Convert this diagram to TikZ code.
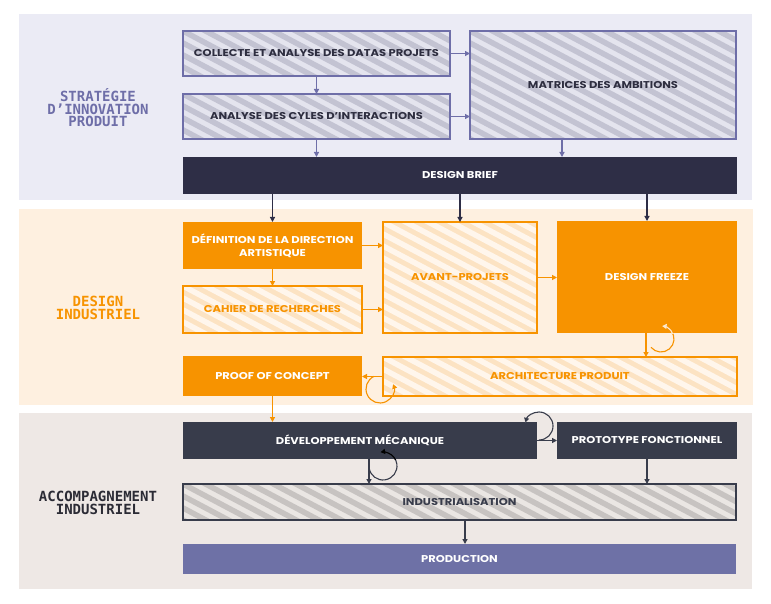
\documentclass[tikz,border=0pt]{standalone}
\usepackage{fontspec}
\setmainfont{Poppins}[FakeStretch=1.16]
\newfontfamily\labelfont{DejaVu Sans Mono}
\usetikzlibrary{arrows.meta,calc}
\definecolor{lavbg}{HTML}{EBEBF5}
\definecolor{purp}{HTML}{6E6EA8}
\definecolor{pstripe}{HTML}{C3C3D2}
\definecolor{pstripebg}{HTML}{E4E4EE}
\definecolor{navy}{HTML}{2E2E46}
\definecolor{creambg}{HTML}{FEF0E0}
\definecolor{orng}{HTML}{F79300}
\definecolor{ostripe}{HTML}{FFF6EC}
\definecolor{ostripebg}{HTML}{FCE3C3}
\definecolor{greybg}{HTML}{EEE8E5}
\definecolor{darkbox}{HTML}{383C4B}
\definecolor{gstripe}{HTML}{C7C3C1}
\definecolor{gstripebg}{HTML}{EAE6E3}
\definecolor{prodc}{HTML}{6E71A6}
\definecolor{txt}{HTML}{2E2E40}
\definecolor{labdark}{HTML}{2B2B35}
\definecolor{loopin}{HTML}{FDE9D0}
\definecolor{loopgrey}{HTML}{A9ABB3}
\begin{document}
\begin{tikzpicture}[x=1pt,y=-1pt,
  sec/.style={anchor=north west, inner sep=0pt, outer sep=0pt},
  seclabel/.style={font=\labelfont\bfseries\fontsize{14}{12.6}\selectfont, align=center},
  box/.style={anchor=north west, inner sep=0pt, outer sep=0pt, align=center,
    font=\bfseries\fontsize{9.9}{13}\selectfont, line width=1.4pt},
  hatch/.style 2 args={fill=#1, path picture={
    \foreach \k in {-12,...,30}{
      \draw[#2, line width=5.5pt] ($(path picture bounding box.north west)+(\k*22.6pt-400pt,212pt)$) -- ++(1000pt,-530pt);
    }}},
  arr/.style={-{Triangle[length=5pt,width=5pt]}, line width=1.3pt},
  larr/.style={-{Triangle[length=4.5pt,width=5pt]}, line width=1.1pt},
]
\useasboundingbox (0,0) rectangle (771,604);
\fill[white] (0,0) rectangle (771,604);

% sections
\node[sec, fill=lavbg, minimum width=733pt, minimum height=186pt] (secA) at (19,14) {};
\node[sec, fill=creambg, minimum width=734pt, minimum height=196pt] (secB) at (19,209) {};
\node[sec, fill=greybg, minimum width=733pt, minimum height=176pt] (secC) at (19,413) {};

\node[seclabel, text=purp] (labA) at (98,108) {STRATÉGIE\\D’INNOVATION\\PRODUIT};
\node[seclabel, text=orng] (labB) at (98,308) {DESIGN\\INDUSTRIEL};
\node[seclabel, text=labdark] (labC) at (98,503) {ACCOMPAGNEMENT\\INDUSTRIEL};

% top boxes
\node[box, hatch={pstripebg}{pstripe}, draw=purp, text=txt, minimum width=267pt, minimum height=45pt] (collecte) at (183,31) {COLLECTE ET ANALYSE DES DATAS PROJETS};
\node[box, hatch={pstripebg}{pstripe}, draw=purp, text=txt, minimum width=267pt, minimum height=45pt] (analyse) at (183,94) {ANALYSE DES CYLES D’INTERACTIONS};
\node[box, hatch={pstripebg}{pstripe}, draw=purp, text=txt, minimum width=266pt, minimum height=108pt] (matrices) at (470,31) {MATRICES DES AMBITIONS};
\node[box, fill=navy, text=white, minimum width=554pt, minimum height=37pt] (brief) at (183,157) {DESIGN BRIEF};

% middle boxes
\node[box, fill=orng, text=white, minimum width=179pt, minimum height=47pt] (def) at (183,222) {DÉFINITION DE LA DIRECTION\\ARTISTIQUE};
\node[box, hatch={ostripebg}{ostripe}, draw=orng, text=orng, minimum width=179pt, minimum height=47pt] (cahier) at (183,286) {CAHIER DE RECHERCHES};
\node[box, hatch={ostripebg}{ostripe}, draw=orng, text=orng, minimum width=154pt, minimum height=111pt] (avant) at (383,222) {AVANT-PROJETS};
\node[box, fill=orng, text=white, minimum width=180pt, minimum height=112pt] (freeze) at (557,221) {DESIGN FREEZE};
\node[box, fill=orng, text=white, minimum width=179pt, minimum height=40pt] (proof) at (183,356) {PROOF OF CONCEPT};
\node[box, hatch={ostripebg}{ostripe}, draw=orng, text=orng, minimum width=354pt, minimum height=39pt] (archi) at (383,357) {ARCHITECTURE PRODUIT};

% bottom boxes
\node[box, fill=darkbox, text=white, minimum width=354pt, minimum height=37pt] (dev) at (183,422) {DÉVELOPPEMENT MÉCANIQUE};
\node[box, fill=darkbox, text=white, minimum width=180pt, minimum height=37pt] (proto) at (557,422) {PROTOTYPE FONCTIONNEL};
\node[box, hatch={gstripebg}{gstripe}, draw=darkbox, text=darkbox, minimum width=553pt, minimum height=36pt] (indus) at (183,484) {INDUSTRIALISATION};
\node[box, fill=prodc, text=white, minimum width=553pt, minimum height=30pt] (prod) at (183,544) {PRODUCTION};

% top arrows
\draw[arr, purp] (collecte.south) -- (analyse.north);
\draw[arr, purp] (analyse.south) -- (analyse.south |- brief.north);
\draw[arr, purp] (collecte.east) -- (collecte.east -| matrices.west);
\draw[arr, purp] (analyse.east) -- (analyse.east -| matrices.west);
\draw[arr, purp] ([xshift=-41pt]matrices.south) -- ([xshift=-41pt]matrices.south |- brief.north);

% brief arrows
\draw[arr, navy] (brief.south -| def.north) -- (def.north);
\draw[arr, navy] (brief.south -| avant.north) -- (avant.north);
\draw[arr, navy] (brief.south -| freeze.north) -- (freeze.north);

% middle arrows
\draw[arr, orng] (def.south) -- (cahier.north);
\draw[arr, orng] (def.east) -- (def.east -| avant.west);
\draw[arr, orng] (cahier.east) -- (cahier.east -| avant.west);
\draw[arr, orng] (avant.east) -- (avant.east -| freeze.west);
\draw[arr, orng] ([xshift=-1pt]freeze.south) -- ([xshift=-1pt]freeze.south |- archi.north);
\draw[arr, orng] (archi.west) -- (archi.west -| proof.east);
\draw[arr, orng] (proof.south) -- (proof.south |- dev.north);

% bottom arrows
\draw[arr, darkbox] (dev.east) -- (dev.east -| proto.west);
\draw[arr, darkbox] ([xshift=186pt]dev.south west) -- ([xshift=186pt]dev.south west |- indus.north);
\draw[arr, darkbox] (proto.south) -- (proto.south |- indus.north);
\draw[arr, darkbox] ([xshift=282pt]indus.south west) -- ([xshift=282pt]indus.south west |- prod.north);

% loops
\coordinate (loopF) at (661,339);
\draw[larr, orng] (loopF) ++(140:13) arc[start angle=140, end angle=-85, radius=13];
\begin{scope}
  \clip (freeze.north west) rectangle (freeze.south east);
  \draw[larr, loopin] (loopF) ++(140:13) arc[start angle=140, end angle=-85, radius=13];
\end{scope}
\coordinate (loopA) at (380,389);
\draw[larr, orng] (loopA) ++(245:14) arc[start angle=245, end angle=-20, radius=14];
\coordinate (loopP) at (539,426);
\draw[larr, darkbox] (loopP) ++(90:14) arc[start angle=90, end angle=-165, radius=14];
\begin{scope}
  \clip (dev.north west) rectangle (dev.south east);
  \draw[larr, loopgrey] (loopP) ++(90:14) arc[start angle=90, end angle=-165, radius=14];
\end{scope}
\coordinate (loopD) at (383,466);
\draw[larr, darkbox] (loopD) ++(172:14) arc[start angle=172, end angle=-100, radius=14];
\begin{scope}
  \clip (dev.north west) rectangle (dev.south east);
  \draw[larr, black] (loopD) ++(172:14) arc[start angle=172, end angle=-100, radius=14];
\end{scope}
\end{tikzpicture}
\end{document}
